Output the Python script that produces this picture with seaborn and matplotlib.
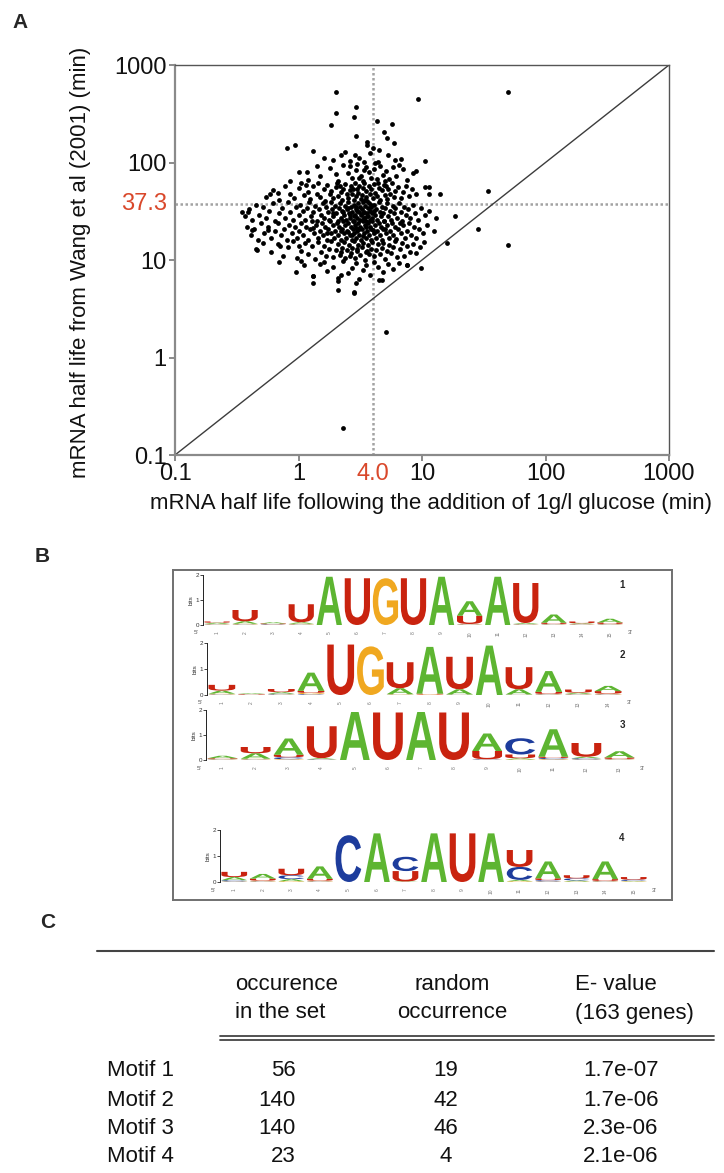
import numpy as np
import pandas as pd
import matplotlib
matplotlib.use("Agg")
import matplotlib.pyplot as plt
import seaborn as sns
from matplotlib.textpath import TextPath
from matplotlib.patches import PathPatch
from matplotlib.font_manager import FontProperties
from matplotlib.transforms import Affine2D, blended_transform_factory
from matplotlib.lines import Line2D

sns.set_style("white")
plt.rcParams['font.family'] = ['Liberation Sans', 'DejaVu Sans']

# ---------------- Panel A data (half lives, min) ----------------
points_outliers = [(2.0,533),(9.3,448),(50,533),(2.9,374),(2.0,325),(2.8,295),(1.84,240),(4.3,266),
    (5.7,248),(4.9,207),(5.2,177),(3.6,164),(0.80,140),(0.94,151),(1.31,132),(4.5,134),(10.6,103),
    (2.87,118),(1.18,79),(6.1,106),(8.9,81),(11.5,56),(14,47.5),(18.6,28.3),(34,51),(28.6,21),
    (50,14.3),(16,14.8),(7.5,8.9),(4.5,6.3),(1.32,6.9),(1.32,5.8),(2.07,6.1),(2.07,4.9),(2.8,4.7),
    (2.2,7.1),(0.46,12.7),(0.42,20.4),(0.59,47),(0.39,31),(0.57,20.4),(0.71,14),(1.04,9.8),(1.6,9.5),
    (2.9,5.8),(4.7,6.2),(5.1,1.81),(2.31,0.19),(2.8,4.55)]
points_100_200 = [(1.9,105),(2.4,128),(3.1,112),(3.6,150),(4.4,102),(2.9,185),(5.3,120),(3.4,101),
    (6.8,108),(2.2,118),(4.0,140),(1.6,110),(5.9,160),(3.8,125),(2.6,104)]
points_63_100 = [(1.2,66),(1.5,72),(1.8,88),(2.1,64),(2.3,95),(2.5,78),(2.7,69),(2.9,84),(3.0,97),
    (3.2,73),(3.3,65),(3.5,90),(3.7,80),(3.9,70),(4.1,86),(4.3,67),(4.6,93),(4.8,75),(5.1,82),(5.4,68),
    (5.8,90),(6.2,72),(7.0,85),(7.6,66),(8.5,78),(1.0,80),(0.85,64),(2.0,76),(2.6,91),(3.4,83),(4.2,99),
    (5.0,64),(6.5,95),(1.4,92),(3.1,70)]
points_40_63 = [(0.55,44),(0.62,52),(0.7,41),(0.78,58),(0.85,47),(0.92,43),(1.0,55),(1.05,61),(1.1,46),
    (1.2,50),(1.25,42),(1.3,57),(1.4,48),(1.45,62),(1.5,44),(1.6,53),(1.65,40),(1.7,59),(1.8,47),(1.85,51),
    (1.9,43),(2.0,56),(2.05,62),(2.1,45),(2.2,50),(2.25,41),(2.3,54),(2.4,60),(2.45,47),(2.5,43),(2.6,52),
    (2.65,57),(2.7,48),(2.8,41),(2.85,61),(2.9,45),(3.0,53),(3.05,49),(3.1,58),(3.2,42),(3.25,46),(3.3,55),
    (3.4,62),(3.5,44),(3.55,51),(3.6,40),(3.7,57),(3.8,47),(3.9,53),(4.0,43),(4.1,60),(4.2,49),(4.3,45),
    (4.5,55),(4.6,41),(4.7,52),(4.9,59),(5.0,46),(5.2,42),(5.3,54),(5.5,48),(5.7,61),(5.9,44),(6.1,51),
    (6.4,56),(6.7,43),(7.0,50),(7.4,58),(7.8,45),(8.3,53),(9.0,47),(10.5,56),(11.5,48),(0.68,49),(1.15,59),
    (2.15,58),(2.75,53),(3.45,41),(4.4,62),(5.1,57)]
points_25_40 = [(0.35,31),(0.37,28),(0.40,33),(0.42,26),(0.45,37),(0.48,29),(0.52,35),(0.55,27),(0.58,32),
    (0.62,38),(0.65,25),(0.7,30),(0.74,34),(0.78,27),(0.82,39),(0.86,31),(0.9,26),(0.95,35),
    (1.0,29),(1.03,37),(1.08,32),(1.12,26),(1.17,34),(1.22,39),(1.27,28),(1.32,31),(1.37,36),(1.42,25),
    (1.47,33),(1.52,29),(1.57,38),(1.62,27),(1.67,35),(1.72,31),(1.77,26),(1.82,39),(1.87,33),(1.92,28),
    (1.97,36),(2.02,30),(2.07,25),(2.12,34),(2.17,38),(2.22,27),(2.27,32),(2.32,29),(2.37,36),(2.42,26),
    (2.47,33),(2.52,39),(2.57,30),(2.62,27),(2.67,35),(2.72,31),(2.77,25),(2.82,37),(2.87,29),(2.92,33),
    (2.97,27),(3.02,38),(3.07,31),(3.12,26),(3.17,35),(3.22,29),(3.27,33),(3.32,39),(3.37,27),(3.42,31),
    (3.47,36),(3.52,25),(3.57,30),(3.62,34),(3.67,28),(3.72,38),(3.77,32),(3.82,26),(3.87,35),(3.92,30),
    (3.97,27),(4.05,37),(4.15,29),(4.25,33),(4.35,26),(4.45,39),(4.55,31),(4.65,28),(4.75,35),(4.85,30),
    (4.95,25),(5.05,34),(5.2,38),(5.35,28),(5.5,32),(5.65,26),(5.8,36),(5.95,30),(6.1,34),(6.3,27),
    (6.5,38),(6.7,31),(6.9,25),(7.1,35),(7.4,29),(7.7,33),(8.0,27),(8.4,37),(8.8,30),(9.3,26),(9.8,34),
    (10.5,29),(11.5,32),(13.0,27),(2.3,31),(2.6,29),(2.9,35),(3.3,30),(3.6,28),(4.1,32),(1.9,30),(2.5,34),
    (3.0,32),(3.4,27),(2.8,28),(3.9,37)]
points_16_25 = [(0.38,22),(0.41,18),(0.44,21),(0.47,16),(0.5,24),(0.53,19),(0.57,22),(0.6,17),(0.64,20),
    (0.68,24),(0.72,18),(0.76,21),(0.8,16),(0.84,23),(0.88,19),(0.93,22),(0.97,17),
    (1.0,20),(1.04,24),(1.09,18),(1.14,22),(1.19,16),(1.24,21),(1.29,25),(1.34,19),(1.39,23),(1.44,17),
    (1.49,20),(1.54,24),(1.59,18),(1.64,22),(1.69,16),(1.74,21),(1.79,25),(1.84,19),(1.89,23),(1.94,17),
    (1.99,20),(2.04,24),(2.09,18),(2.14,22),(2.19,16),(2.24,21),(2.29,25),(2.34,19),(2.39,23),(2.44,17),
    (2.49,20),(2.54,24),(2.59,18),(2.64,22),(2.69,16),(2.74,21),(2.79,25),(2.84,19),(2.89,23),(2.94,17),
    (2.99,20),(3.05,24),(3.11,18),(3.17,22),(3.23,16),(3.29,21),(3.35,25),(3.41,19),(3.47,23),(3.53,17),
    (3.59,20),(3.65,24),(3.71,18),(3.77,22),(3.83,16),(3.89,21),(3.95,25),(4.05,19),(4.15,23),(4.25,17),
    (4.35,20),(4.45,24),(4.55,18),(4.65,22),(4.75,16),(4.85,21),(4.95,25),(5.1,19),(5.25,23),(5.4,17),
    (5.55,20),(5.7,24),(5.85,18),(6.0,22),(6.2,16.5),(6.4,21),(6.6,24),(6.8,19),(7.0,23),(7.3,17),
    (7.6,20),(7.9,24),(8.2,18),(8.6,22),(9.0,17),(9.5,21),(10.2,19),(11.0,23),(12.5,20),
    (2.2,20),(2.7,18),(3.1,21),(3.5,22),(2.5,19.5),(1.7,19),(4.0,20.5),(3.3,17.5),(2.9,21.5),(1.3,21.5),(5.0,21)]
points_10_16 = [(0.45,13),(0.52,15),(0.6,12),(0.68,14.5),(0.75,11),(0.82,13.5),(0.9,15.5),(0.98,10.5),
    (1.05,12.5),(1.12,14.8),(1.2,11.5),(1.28,13.8),(1.36,10.2),(1.44,15.2),(1.52,12.2),(1.6,14),(1.68,11),
    (1.76,13),(1.84,15.8),(1.92,10.8),(2.0,12.8),(2.08,14.6),(2.16,11.3),(2.24,13.4),(2.32,15.4),(2.4,10.4),
    (2.48,12.6),(2.56,14.2),(2.64,11.8),(2.72,13.2),(2.8,15.6),(2.88,10.6),(2.96,12.4),(3.05,14.4),
    (3.15,11.2),(3.25,13.6),(3.35,15),(3.45,10.1),(3.55,12),(3.65,14.1),(3.75,11.6),(3.85,13.1),(3.95,15.3),
    (4.1,10.9),(4.25,12.7),(4.4,14.7),(4.55,11.4),(4.7,13.3),(4.85,15.1),(5.0,10.3),(5.2,12.3),(5.4,14.3),
    (5.6,11.7),(5.8,13.7),(6.0,15.7),(6.3,10.7),(6.6,12.9),(6.9,14.9),(7.2,11.1),(7.6,13.9),(8.0,12.1),
    (8.5,14.5),(9.0,11.9),(9.6,13.5),(10.3,15.4),(1.0,14),(2.2,12),(3.0,13),(3.6,12.5),(2.6,11)]
points_6_10 = [(0.7,9.5),(0.95,7.5),(1.1,8.8),(1.3,6.9),(1.5,9.2),(1.7,7.8),(1.9,8.5),(2.1,6.6),(2.3,9.7),
    (2.5,7.3),(2.7,8.2),(2.9,9.4),(3.1,6.4),(3.3,7.9),(3.5,8.9),(3.8,7.1),(4.1,9.6),(4.4,8.4),(4.8,7.5),
    (5.3,9.1),(5.8,8.1),(6.5,9.3),(7.5,8.9),(9.9,8.2)]

median_glucose = 4.0
median_wang = 37.3
axis_limits = [0.1, 1000]
axis_ticks = [0.1, 1, 10, 100, 1000]
axis_tick_labels = ["0.1", "1", "10", "100", "1000"]
xlabel_a = "mRNA half life following the addition of 1g/l glucose (min)"
ylabel_a = "mRNA half life from Wang et al (2001) (min)"

# ---------------- Panel B data (bits per base and position) ----------------
motif1_A = [0.05,0.10,0.05,0.06,1.93,0,0,0,1.93,0.58,1.93,0.04,0.33,0.03,0.15]
motif1_C = [0.02,0.02,0.02,0.02,0,0,0,0,0,0.02,0,0.02,0.02,0.02,0.02]
motif1_G = [0.02,0.03,0.01,0.03,0,0,1.87,0,0,0.02,0,0.02,0.02,0.02,0.02]
motif1_U = [0.05,0.45,0.03,0.72,0,1.87,0,1.87,0,0.33,0,1.60,0.05,0.07,0.06]

motif2_A = [0.12,0.03,0.06,0.70,0,0,0.23,1.80,0.20,1.90,0.20,0.80,0.05,0.20]
motif2_C = [0.02,0.01,0.03,0.03,0,0,0.01,0,0.01,0,0.01,0.02,0.02,0.02]
motif2_G = [0.03,0.01,0.02,0.05,0,1.87,0.02,0.02,0.01,0,0.01,0.02,0.02,0.03]
motif2_U = [0.22,0.02,0.12,0.08,1.94,0,1.00,0.03,1.25,0,0.85,0.08,0.12,0.10]

motif3_A = [0.10,0.22,0.65,0.04,1.92,0,1.92,0,0.70,0.05,1.10,0.06,0.25]
motif3_C = [0.02,0.02,0.08,0.02,0,0,0,0,0.02,0.65,0.05,0.05,0.02]
motif3_G = [0.02,0.03,0.03,0.01,0,0,0,0,0.01,0.02,0.03,0.02,0.02]
motif3_U = [0.03,0.25,0.10,1.28,0,1.90,0,1.90,0.33,0.15,0.05,0.55,0.06]

motif4_A = [0.12,0.18,0.08,0.48,0,1.87,0.02,1.87,0,1.87,0.05,0.65,0.04,0.68,0.02]
motif4_C = [0.05,0.02,0.15,0.02,1.80,0,0.55,0,0,0,0.50,0.05,0.08,0.02,0.05]
motif4_G = [0.02,0.03,0.03,0.03,0,0,0,0,0,0,0.03,0.02,0.02,0.02,0.02]
motif4_U = [0.20,0.08,0.25,0.07,0,0,0.40,0,1.87,0,0.65,0.07,0.12,0.07,0.10]

motif_names = ["1", "2", "3", "4"]

# ---------------- Panel C data ----------------
table_motifs = ["Motif 1", "Motif 2", "Motif 3", "Motif 4"]
occurrence_in_set = [56, 140, 140, 23]
random_occurrence = [19, 42, 46, 4]
e_values = ["1.7e-07", "1.7e-06", "2.3e-06", "2.1e-06"]
header_col1 = ["occurence", "in the set"]
header_col2 = ["random", "occurrence"]
header_col3 = ["E- value", "(163 genes)"]

# ======================================================================
W, H = 724.0, 1173.0
fig = plt.figure(figsize=(W / 100, H / 100), dpi=100)
fig.patch.set_facecolor("white")


def rect(l, t, r, b):
    return [l / W, 1 - b / H, (r - l) / W, (b - t) / H]


def fx(x):
    return x / W


def fy(y):
    return 1 - y / H


# ---------------- Panel A ----------------
all_points = (points_outliers + points_100_200 + points_63_100 + points_40_63 +
              points_25_40 + points_16_25 + points_10_16 + points_6_10)
df = pd.DataFrame(all_points, columns=["glucose", "wang"])

ax = fig.add_axes(rect(175, 65, 669, 455))
ax.set_xscale("log")
ax.set_yscale("log")
ax.axvline(median_glucose, color="#a3a3a3", ls=(0, (1, 1)), lw=1.8, zorder=1)
ax.axhline(median_wang, color="#a3a3a3", ls=(0, (1, 1)), lw=1.8, zorder=1)
ax.plot(axis_limits, axis_limits, color="#3c3c3c", lw=1.0, zorder=1)
sns.scatterplot(data=df, x="glucose", y="wang", ax=ax, color="black", s=12,
                linewidth=0, zorder=3, legend=False)
ax.set_xlim(axis_limits)
ax.set_ylim(axis_limits)
ax.set_xticks(axis_ticks)
ax.set_xticklabels(axis_tick_labels)
ax.set_yticks(axis_ticks)
ax.set_yticklabels(axis_tick_labels)
ax.minorticks_off()
ax.set_xlabel("")
ax.set_ylabel("")
ax.tick_params(axis="both", which="major", bottom=True, left=True, length=4, width=1.2,
               color="#777777", labelcolor="#111111", labelsize=17, pad=2, direction="out")
for side in ["top", "right"]:
    ax.spines[side].set_color("#555555")
    ax.spines[side].set_linewidth(1.0)
for side in ["left", "bottom"]:
    ax.spines[side].set_color("#8a8a8a")
    ax.spines[side].set_linewidth(1.6)

red = "#d9482b"
ty = blended_transform_factory(ax.transAxes, ax.transData)
ax.text(-0.0168, median_wang, f"{median_wang:.1f}", transform=ty, ha="right", va="center",
        color=red, fontsize=17)
tx = blended_transform_factory(ax.transData, ax.transAxes)
ax.text(median_glucose, -0.0213, f"{median_glucose:.1f}", transform=tx, ha="center", va="top",
        color=red, fontsize=17)

fig.text(fx(431), fy(503), xlabel_a, ha="center", va="center", fontsize=16, color="#111111")
fig.text(fx(81), fy(262), ylabel_a, ha="center", va="center", rotation=90, fontsize=16,
         color="#111111")

fig.text(fx(12), fy(22), "A", fontsize=15, weight="bold", ha="left", va="center")
fig.text(fx(35), fy(557), "B", fontsize=15, weight="bold", ha="left", va="center")
fig.text(fx(40), fy(923), "C", fontsize=15, weight="bold", ha="left", va="center")

# ---------------- Panel B ----------------
boxax = fig.add_axes(rect(173, 570, 672, 900))
boxax.set_xticks([])
boxax.set_yticks([])
for s in boxax.spines.values():
    s.set_color("#707070")
    s.set_linewidth(1.4)

LETTER_FP = FontProperties(family="Liberation Sans", weight="bold")
BASE_COLORS = {"A": "#5db531", "C": "#1d3c9c", "G": "#f0a820", "U": "#c9230f"}


def draw_letter(lax, letter, x, y0, h, w=0.9):
    tp = TextPath((0, 0), letter, size=1, prop=LETTER_FP)
    bb = tp.get_extents()
    t = (Affine2D().translate(-bb.x0, -bb.y0)
         .scale(w / bb.width, h / bb.height)
         .translate(x - w / 2, y0))
    lax.add_patch(PathPatch(t.transform_path(tp), facecolor=BASE_COLORS[letter],
                            edgecolor="none", lw=0))


motifs = [
    {"A": motif1_A, "C": motif1_C, "G": motif1_G, "U": motif1_U},
    {"A": motif2_A, "C": motif2_C, "G": motif2_G, "U": motif2_U},
    {"A": motif3_A, "C": motif3_C, "G": motif3_G, "U": motif3_U},
    {"A": motif4_A, "C": motif4_C, "G": motif4_G, "U": motif4_U},
]
logo_boxes = [(203, 575, 624, 625), (207, 643, 623, 695), (206, 710, 636, 760), (220, 830, 648, 882)]
label_pos = [(622, 585), (622, 655), (622, 725), (622, 838)]

for motif, (l, t, r, b), name, (lx, ly) in zip(motifs, logo_boxes, motif_names, label_pos):
    lax = fig.add_axes(rect(l, t, r, b))
    lax.patch.set_alpha(0)
    n = len(motif["A"])
    for i in range(n):
        column = sorted([(motif[base][i], base) for base in "ACGU"])
        y = 0.0
        for h, base in column:
            if h > 0:
                draw_letter(lax, base, i + 1, y, h)
                y += h
    lax.set_xlim(0.5, n + 0.5)
    lax.set_ylim(0, 2)
    for side in ["top", "right", "bottom"]:
        lax.spines[side].set_visible(False)
    lax.spines["left"].set_color("#222222")
    lax.spines["left"].set_linewidth(0.7)
    lax.set_yticks([0, 1, 2])
    lax.set_yticklabels(["0", "1", "2"])
    lax.set_xticks(range(1, n + 1))
    lax.set_xticklabels([str(k) for k in range(1, n + 1)], rotation=90)
    lax.tick_params(axis="y", left=True, length=2, width=0.6, labelsize=4.5, pad=1,
                    color="#222222", labelcolor="#333333")
    lax.tick_params(axis="x", bottom=False, labelsize=3.5, pad=1, labelcolor="#777777")
    lax.set_ylabel("bits", fontsize=4.5, labelpad=1, color="#333333")
    fig.text(fx(l - 9), fy(b + 8), "5'", fontsize=4.5, color="#555555", ha="left", va="center")
    fig.text(fx(r + 4), fy(b + 8), "3'", fontsize=4.5, color="#555555", ha="left", va="center")
    fig.text(fx(lx), fy(ly), name, fontsize=7, weight="bold", ha="center", va="center")

# ---------------- Panel C ----------------
fig.add_artist(Line2D([fx(97), fx(714)], [fy(951), fy(951)], color="#444444", lw=1.5))
fig.add_artist(Line2D([fx(220), fx(714)], [fy(1036), fy(1036)], color="#444444", lw=1.3))
fig.add_artist(Line2D([fx(220), fx(714)], [fy(1040), fy(1040)], color="#444444", lw=1.3))

tfs = 16
for k, yy in enumerate([985, 1013]):
    fig.text(fx(235), fy(yy), header_col1[k], fontsize=tfs, ha="left", va="center", color="#111111")
    fig.text(fx(452), fy(yy), header_col2[k], fontsize=tfs, ha="center", va="center", color="#111111")
    fig.text(fx(575), fy(yy), header_col3[k], fontsize=tfs, ha="left", va="center", color="#111111")

row_y = [1071, 1100, 1128, 1157]
for name, occ, rnd, ev, yy in zip(table_motifs, occurrence_in_set, random_occurrence, e_values, row_y):
    fig.text(fx(107), fy(yy), name, fontsize=tfs, ha="left", va="center", color="#111111")
    fig.text(fx(296), fy(yy), str(occ), fontsize=tfs, ha="right", va="center", color="#111111")
    fig.text(fx(446), fy(yy), str(rnd), fontsize=tfs, ha="center", va="center", color="#111111")
    fig.text(fx(621), fy(yy), ev, fontsize=tfs, ha="center", va="center", color="#111111")

fig.savefig("out.png", dpi=100, facecolor="white")
